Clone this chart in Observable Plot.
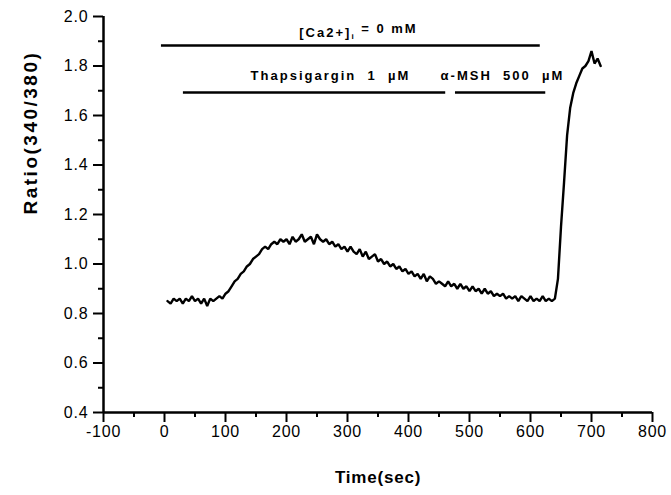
<!DOCTYPE html>
<html>
<head>
<meta charset="utf-8">
<script src="https://cdn.jsdelivr.net/npm/d3@7"></script>
<script src="https://cdn.jsdelivr.net/npm/@observablehq/plot@0.6"></script>
<style>
  html, body { margin: 0; padding: 0; background: #fff; }
  svg text { white-space: pre; }
</style>
</head>
<body>
<div id="chart"></div>
<script>
// ---- data ----
const timeSec = [5,10,15,20,25,30,35,40,45,50,55,60,65,70,75,80,85,90,95,100,
  105,110,115,120,125,130,135,140,145,150,155,160,165,170,175,180,185,190,195,200,
  205,210,215,220,225,230,235,240,245,250,255,260,265,270,275,280,285,290,295,300,
  305,310,315,320,325,330,335,340,345,350,355,360,365,370,375,380,385,390,395,400,
  405,410,415,420,425,430,435,440,445,450,455,460,465,470,475,480,485,490,495,500,
  505,510,515,520,525,530,535,540,545,550,555,560,565,570,575,580,585,590,595,600,
  605,610,615,620,625,630,635,640,645,650,655,660,665,670,675,680,685,690,695,700,
  705,710,715];
const ratio = [0.85,0.84,0.86,0.85,0.86,0.84,0.86,0.85,0.87,0.85,0.86,0.84,0.86,0.83,0.86,0.85,0.86,0.87,0.86,0.88,
  0.89,0.91,0.93,0.94,0.96,0.97,0.99,1.00,1.02,1.03,1.04,1.06,1.07,1.06,1.08,1.09,1.08,1.10,1.09,1.10,
  1.08,1.11,1.09,1.10,1.12,1.09,1.10,1.11,1.08,1.12,1.10,1.09,1.10,1.08,1.09,1.07,1.08,1.06,1.07,1.05,
  1.07,1.05,1.04,1.06,1.03,1.05,1.02,1.03,1.04,1.01,1.02,1.00,1.01,0.99,1.00,0.98,0.99,0.97,0.98,0.96,
  0.97,0.95,0.96,0.94,0.96,0.93,0.95,0.94,0.92,0.93,0.92,0.91,0.93,0.91,0.92,0.90,0.92,0.90,0.91,0.89,
  0.91,0.89,0.90,0.88,0.90,0.88,0.89,0.87,0.88,0.87,0.88,0.86,0.87,0.86,0.87,0.85,0.87,0.86,0.85,0.87,
  0.85,0.86,0.85,0.87,0.85,0.86,0.85,0.86,0.94,1.15,1.33,1.52,1.63,1.69,1.73,1.76,1.79,1.80,1.82,1.86,
  1.81,1.83,1.80];

const xTicks = [-100,0,100,200,300,400,500,600,700,800];
const xMinorTicks = [-50,50,150,250,350,450,550,650,750];
const yTicks = [0.4,0.6,0.8,1.0,1.2,1.4,1.6,1.8,2.0];
const yMinorTicks = [0.5,0.7,0.9,1.1,1.3,1.5,1.7,1.9];

// treatment bars (time ranges, level in ratio units)
const barStart = [-5, 31, 477];
const barEnd = [616, 461, 625];
const barLevel = [1.883, 1.693, 1.693];

// treatment labels
const labelText = ["[Ca2+]i = 0 mM", "Thapsigargin  1  µM", "α-MSH  500  µM"];
const labelTime = [318, 272, 554];
const labelLevel = [1.935, 1.762, 1.762];

const series = timeSec.map((t, i) => ({t, r: ratio[i]}));
const bars = barStart.map((s, i) => ({s, e: barEnd[i], y: barLevel[i]}));
const labels = labelText.map((txt, i) => ({txt, x: labelTime[i], y: labelLevel[i]}));

const font = "'Liberation Sans', Arial, Helvetica, sans-serif";

const chart = Plot.plot({
  width: 671,
  height: 495,
  marginLeft: 103,
  marginRight: 19,
  marginTop: 16,
  marginBottom: 83,
  style: {fontFamily: font, fontSize: "16px", color: "#000", background: "#fff", overflow: "visible"},
  x: {domain: [-100, 800]},
  y: {domain: [0.4, 2.0]},
  marks: [
    Plot.axisX({ticks: xTicks, tickSize: 10, tickPadding: 3, strokeWidth: 2, tickFormat: d => String(d), label: null, fontSize: 16, className: "ticklab"}),
    Plot.axisX({ticks: xMinorTicks, tickSize: 5, strokeWidth: 2, text: null, label: null}),
    Plot.axisY({ticks: yTicks, tickSize: 10, tickPadding: 5, strokeWidth: 2, tickFormat: d3.format(".1f"), label: null, fontSize: 16, className: "ticklab"}),
    Plot.axisY({ticks: yMinorTicks, tickSize: 5, strokeWidth: 2, text: null, label: null}),
    Plot.ruleX([-100], {y1: 0.4, y2: 2.0, strokeWidth: 2.5}),
    Plot.ruleY([0.4], {x1: -100, x2: 800, strokeWidth: 2.5}),
    Plot.line(series, {x: "t", y: "r", stroke: "#000", strokeWidth: 2.4, strokeLinejoin: "miter"}),
    Plot.ruleY(bars, {x1: "s", x2: "e", y: "y", stroke: "#000", strokeWidth: 2.5}),
    Plot.text(labels, {x: "x", y: "y", text: "txt", fontSize: 13, fontWeight: "bold", fill: "#000", className: "annot"}),
    Plot.text(["Time(sec)"], {frameAnchor: "bottom", dy: 70, fontSize: 17, fontWeight: "bold", fill: "#000", className: "xtitle"}),
    Plot.text(["Ratio(340/380)"], {frameAnchor: "left", dx: -73, rotate: -90, fontSize: 19, fontWeight: "bold", fill: "#000", className: "ytitle"})
  ]
});

document.getElementById("chart").appendChild(chart);

// letter spacing and subscript
const svg = d3.select(chart);
svg.selectAll("g.annot text").style("letter-spacing", "2px");
svg.selectAll(".ticklab text").style("letter-spacing", "0.8px");
svg.selectAll("g.ytitle text").style("letter-spacing", "2.5px");
svg.selectAll("g.xtitle text").style("letter-spacing", "0.8px");
svg.selectAll("text").each(function() {
  const el = d3.select(this);
  if (el.text() === "[Ca2+]i = 0 mM") {
    el.text(null);
    el.append("tspan").text("[Ca2+]");
    el.append("tspan").attr("dy", "0.3em").style("font-size", "8px").text("i");
    el.append("tspan").attr("dy", "-0.45em").text(" = 0 mM");
  }
});
</script>
</body>
</html>
